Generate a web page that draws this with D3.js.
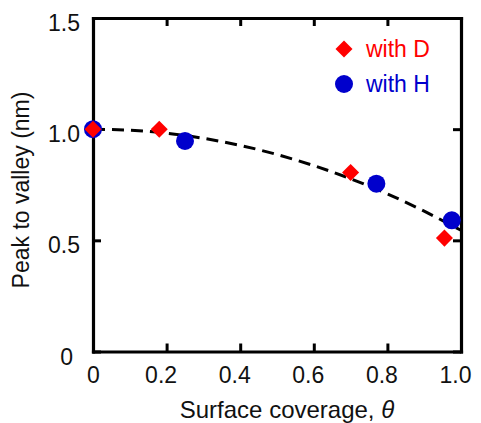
<!DOCTYPE html>
<html>
<head>
<meta charset="utf-8">
<script src="https://cdn.jsdelivr.net/npm/d3@7"></script>
<style>
  body { margin: 0; background: #fff; }
  svg text { font-family: "Liberation Sans", Arial, sans-serif; }
</style>
</head>
<body>
<svg id="chart" width="481" height="423"></svg>
<script>
// data
var coverageD = [0, 0.18, 0.70, 0.955];
var peakD = [1.0, 1.0, 0.805, 0.51];
var coverageH = [0, 0.25, 0.77, 0.975];
var peakH = [1.0, 0.947, 0.755, 0.59];
// dashed guide line
var fitX = [0, 0.1, 0.2, 0.3, 0.4, 0.5, 0.6, 0.7, 0.8, 0.9, 1.0];
var fitY = [1.0, 0.995, 0.982, 0.959, 0.927, 0.886, 0.836, 0.777, 0.709, 0.631, 0.545];
var xTicks = [0, 0.2, 0.4, 0.6, 0.8, 1.0];
var yTicks = [0, 0.5, 1.0, 1.5];
var legendItems = ["with D", "with H"];

var svg = d3.select("#chart");
var plotL = 93, plotR = 461, plotT = 18, plotB = 351.5;

var x = d3.scaleLinear().domain([0, 1]).range([plotL, plotR]);
var y = d3.scaleLinear().domain([0, 1.5]).range([plotB, plotT]);

var fmt = function (d) { return d === 0 ? "0" : d3.format(".1f")(d); };

// axes, ticks pointing in
var g = svg.append("g");
var gx = g.append("g").attr("transform", "translate(0," + plotB + ")")
  .call(d3.axisBottom(x).tickValues(xTicks).tickSizeInner(-8).tickSizeOuter(0).tickPadding(15).tickFormat(fmt));
g.append("g").attr("transform", "translate(0," + plotT + ")")
  .call(d3.axisTop(x).tickValues(xTicks).tickSizeInner(-8).tickSizeOuter(0).tickFormat(""));
var gy = g.append("g").attr("transform", "translate(" + plotL + ",0)")
  .call(d3.axisLeft(y).tickValues(yTicks).tickSizeInner(-8).tickSizeOuter(0).tickPadding(13).tickFormat(fmt));
g.append("g").attr("transform", "translate(" + plotR + ",0)")
  .call(d3.axisRight(y).tickValues(yTicks).tickSizeInner(-8).tickSizeOuter(0).tickFormat(""));

g.selectAll(".domain").attr("stroke", "#000").attr("stroke-width", 3.2).attr("stroke-linecap", "square");
g.selectAll(".tick line").attr("stroke", "#000").attr("stroke-width", 3);
g.selectAll(".tick text").attr("font-size", 23).attr("fill", "#111")
  .attr("font-family", "Liberation Sans, Arial, sans-serif");
// labels sit a bit off the ticks in the original
gx.selectAll(".tick text").attr("dx", function (d) { return d === 0 ? 0 : -6; });
gy.selectAll(".tick text").attr("dy", "0.55em").attr("dx", function (d) { return d === 0 ? -7 : 0; });

// dashed line
var fit = fitX.map(function (v, i) { return [v, fitY[i]]; });
svg.append("path")
  .datum(fit)
  .attr("fill", "none")
  .attr("stroke", "#000")
  .attr("stroke-width", 3)
  .attr("stroke-dasharray", "12,7")
  .attr("d", d3.line().x(function (d) { return x(d[0]); }).y(function (d) { return y(d[1]); }).curve(d3.curveMonotoneX));

// H circles then D diamonds on top
svg.selectAll("circle.h")
  .data(coverageH)
  .enter().append("circle")
  .attr("class", "h")
  .attr("cx", function (d) { return x(d); })
  .attr("cy", function (d, i) { return y(peakH[i]); })
  .attr("r", 9)
  .attr("fill", "#0000cc");

var diamond = d3.symbol().type(d3.symbolDiamond2).size(185);
svg.selectAll("path.d")
  .data(coverageD)
  .enter().append("path")
  .attr("class", "d")
  .attr("d", diamond)
  .attr("transform", function (d, i) { return "translate(" + x(d) + "," + y(peakD[i]) + ")"; })
  .attr("fill", "#ff0000");

// legend
var legend = svg.append("g").attr("transform", "translate(344,49)");
var colors = ["#ff0000", "#0000cc"];
legendItems.forEach(function (name, i) {
  var row = legend.append("g").attr("transform", "translate(0," + (i * 35) + ")");
  if (i === 0) {
    row.append("path").attr("d", diamond).attr("fill", colors[i]);
  } else {
    row.append("circle").attr("r", 9).attr("fill", colors[i]);
  }
  row.append("text")
    .attr("x", 22)
    .attr("y", 8)
    .attr("font-size", 23)
    .attr("fill", colors[i])
    .text(name);
});

// axis titles
var xt = svg.append("text")
  .attr("x", 287)
  .attr("y", 418)
  .attr("text-anchor", "middle")
  .attr("font-size", 24)
  .attr("fill", "#111");
xt.append("tspan").text("Surface coverage,  ");
xt.append("tspan").attr("font-style", "italic").text("θ");

svg.append("text")
  .attr("transform", "translate(29,190) rotate(-90)")
  .attr("text-anchor", "middle")
  .attr("font-size", 23)
  .attr("fill", "#111")
  .text("Peak to valley (nm)");
</script>
</body>
</html>
